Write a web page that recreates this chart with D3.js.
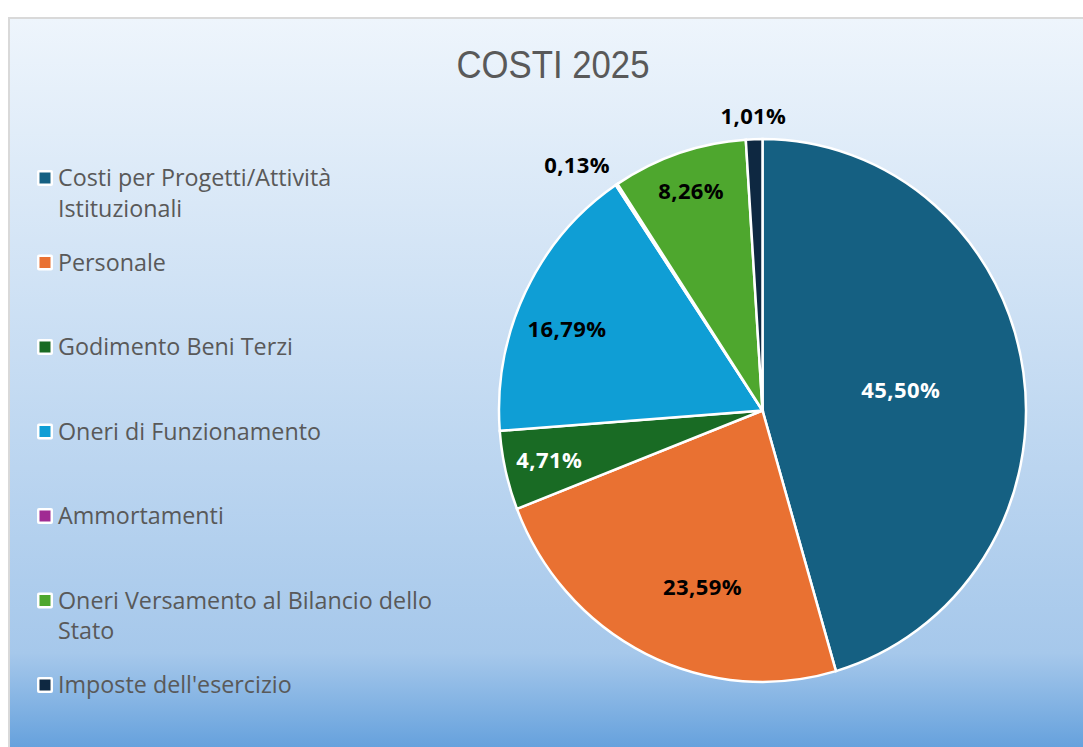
<!DOCTYPE html>
<html>
<head>
<meta charset="utf-8">
<script src="https://cdn.jsdelivr.net/npm/d3@7"></script>
<style>
  html, body { margin: 0; padding: 0; background: #fff; }
  svg { display: block; }
</style>
</head>
<body>
<div id="chart"></div>
<script>
// data
const categories = [
  "Costi per Progetti/Attività Istituzionali",
  "Personale",
  "Godimento Beni Terzi",
  "Oneri di Funzionamento",
  "Ammortamenti",
  "Oneri Versamento al Bilancio dello Stato",
  "Imposte dell'esercizio"
];
const percentages = [45.50, 23.59, 4.71, 16.79, 0.13, 8.26, 1.01];
const sliceColors = ["#156082", "#E97132", "#196B24", "#0F9ED5", "#A02B93", "#4EA72E", "#0E2841"];
const chartTitle = "COSTI 2025";

// label placement (best fit style): radius as share of pie radius, angle nudge in degrees
const labelRadius = [0.53, 0.69, 0.83, 0.80, 1.145, 0.853, 1.086];
const labelNudge  = [0, -7, 0, -4, -4.3, 0, 0];

const W = 1083, H = 747;
const cx = 762.5, cy = 410.5, R = 263.5, squash = 1.03;

const svg = d3.select("#chart").append("svg")
  .attr("width", W)
  .attr("height", H);

// background gradient
const grad = svg.append("defs").append("linearGradient")
  .attr("id", "bg")
  .attr("x1", 0).attr("y1", 0).attr("x2", 0).attr("y2", 1);
grad.append("stop").attr("offset", "0%").attr("stop-color", "#EEF5FC");
grad.append("stop").attr("offset", "85%").attr("stop-color", "#A6C8EB");
grad.append("stop").attr("offset", "100%").attr("stop-color", "#5A9ADA");

svg.append("rect")
  .attr("x", 9).attr("y", 18)
  .attr("width", W).attr("height", H)
  .attr("fill", "url(#bg)")
  .attr("stroke", "#D9D9D9")
  .attr("stroke-width", 2);

// title
svg.append("text")
  .attr("x", 553)
  .attr("y", 78)
  .attr("text-anchor", "middle")
  .attr("textLength", 193)
  .attr("lengthAdjust", "spacingAndGlyphs")
  .style("font-family", "'Liberation Sans', Arial, sans-serif")
  .style("font-size", "38px")
  .style("fill", "#595959")
  .text(chartTitle);

// pie
const color = d3.scaleOrdinal().domain(categories).range(sliceColors);
const pie = d3.pie().sort(null).value(d => d.value);
const arcs = pie(categories.map((c, i) => ({ name: c, value: percentages[i], i })));
const arc = d3.arc().innerRadius(0).outerRadius(R);

const pieG = svg.append("g")
  .attr("transform", `translate(${cx},${cy}) scale(1,${squash})`);

pieG.selectAll("path")
  .data(arcs)
  .enter()
  .append("path")
  .attr("d", arc)
  .attr("fill", d => color(d.data.name))
  .attr("stroke", "#fff")
  .attr("stroke-width", 2.5)
  .attr("vector-effect", "non-scaling-stroke");

// labels
const it = d3.formatLocale({ decimal: ",", thousands: ".", grouping: [3], currency: ["€", ""] });
const fmt = it.format(".2f");

svg.append("g").selectAll("text")
  .data(arcs)
  .enter()
  .append("text")
  .attr("x", d => {
    const a = (d.startAngle + d.endAngle) / 2 + labelNudge[d.data.i] * Math.PI / 180;
    return cx + R * labelRadius[d.data.i] * Math.sin(a);
  })
  .attr("y", d => {
    const a = (d.startAngle + d.endAngle) / 2 + labelNudge[d.data.i] * Math.PI / 180;
    return cy - R * labelRadius[d.data.i] * Math.cos(a) * squash;
  })
  .attr("dy", "0.36em")
  .attr("text-anchor", "middle")
  .style("font-family", "'Open Sans', 'Noto Sans', sans-serif")
  .style("font-weight", "bold")
  .style("font-size", "22px")
  .style("letter-spacing", "0.4px")
  .style("fill", d => (labelRadius[d.data.i] < 1 && d3.hsl(color(d.data.name)).l < 0.35) ? "#fff" : "#000")
  .text(d => fmt(d.value) + "%");

// legend
const ly = d3.scalePoint().domain(categories).range([178, 685]);

const legend = svg.append("g").selectAll("g")
  .data(categories)
  .enter()
  .append("g")
  .attr("transform", d => `translate(0,${ly(d)})`);

legend.append("rect")
  .attr("x", 37).attr("y", -8)
  .attr("width", 16).attr("height", 16)
  .attr("rx", 2)
  .attr("fill", "#fff");

legend.append("rect")
  .attr("x", 39.5).attr("y", -5.5)
  .attr("width", 11).attr("height", 11)
  .attr("fill", d => color(d));

const legendText = legend.append("text")
  .attr("x", 58)
  .attr("y", 8)
  .style("font-family", "'Open Sans', 'Noto Sans', sans-serif")
  .style("font-size", "23.3px")
  .style("fill", "#595959")
  .text(d => d);

// wrap long legend entries
legendText.each(function () {
  const t = d3.select(this);
  const words = t.text().split(" ");
  t.text(null);
  let line = [];
  let tspan = t.append("tspan").attr("x", 58).attr("dy", 0);
  words.forEach(w => {
    line.push(w);
    tspan.text(line.join(" "));
    if (tspan.node().getComputedTextLength() > 385 && line.length > 1) {
      line.pop();
      tspan.text(line.join(" "));
      line = [w];
      tspan = t.append("tspan").attr("x", 58).attr("dy", 30.5).text(w);
    }
  });
});
</script>
</body>
</html>
